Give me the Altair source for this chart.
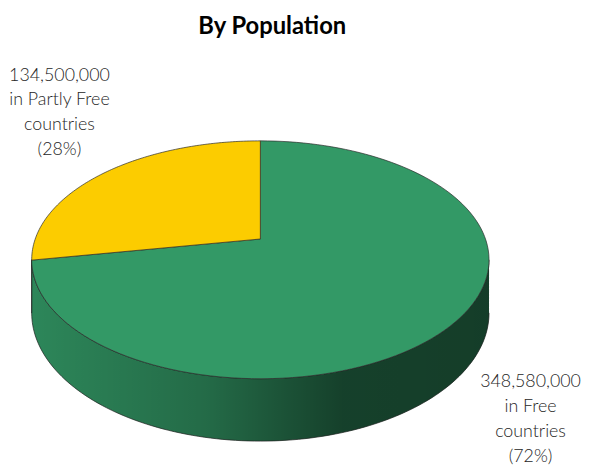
import altair as alt
import pandas as pd

# ---- data ----
categories = ["Free", "Partly Free"]
populations = [348580000, 134500000]
slice_colors = ["#339966", "#fccc00"]
title_text = "By Population"

total = sum(populations)
percents = [round(v / total * 100) for v in populations]
label_texts = [f"{v:,}\nin {c}\ncountries\n({p}%)" for v, c, p in zip(populations, categories, percents)]

df = pd.DataFrame({"category": categories, "population": populations,
                   "slice": list(range(len(categories)))})
lab_df = pd.DataFrame({"category": categories, "label": label_texts})
title_df = pd.DataFrame({"t": [title_text]})

# ---- 3D pie geometry (layout) ----
CX, CY, A, B, P, D0 = 263.0, 239.0, 227.5, 116.5, 0.175, 52.0
N = 120
FONT = "Lato"

xs = alt.Scale(domain=[8, 581], nice=False, zero=False)
ys = alt.Scale(domain=[8, 465], nice=False, zero=False, reverse=True)
color = alt.Color("category:N", scale=alt.Scale(domain=categories, range=slice_colors), legend=None)
X = alt.X("px:Q", scale=xs, axis=None)
Y = alt.Y("py:Q", scale=ys, axis=None)

base = (
    alt.Chart(df)
    .transform_joinaggregate(total="sum(population)")
    .transform_window(cum="sum(population)", sort=[alt.SortField("slice")], frame=[None, 0])
    .transform_calculate(a0="2*PI*(datum.cum - datum.population)/datum.total")
    .transform_calculate(a1="2*PI*datum.cum/datum.total")
)

top = (
    base.transform_calculate(idx=f"sequence(-1, {N + 2})")
    .transform_flatten(["idx"])
    .transform_calculate(phi=f"datum.a0 + (datum.a1 - datum.a0) * clamp(datum.idx, 0, {N}) / {N}")
    .transform_calculate(rim=f"datum.idx >= 0 && datum.idx <= {N}")
    .transform_calculate(w=f"1 + {P} * cos(datum.phi)")
    .transform_calculate(px=f"datum.rim ? {CX} + {A} * sin(datum.phi) / datum.w : {CX}")
    .transform_calculate(py=f"datum.rim ? {CY} - {B} * cos(datum.phi) / datum.w : {CY}")
    .mark_line(filled=True, stroke="#2b2b2b", strokeWidth=0.7, strokeJoin="round")
    .encode(x=X, y=Y, order="idx:Q", detail="category:N", color=color)
)

wall_base = (
    base.transform_calculate(b0=f"max(datum.a0, acos(-{P}))")
    .transform_calculate(b1=f"min(datum.a1, 2*PI - acos(-{P}))")
    .transform_filter("datum.b1 > datum.b0")
    .transform_calculate(idx=f"sequence(0, {2 * N + 2})")
    .transform_flatten(["idx"])
    .transform_calculate(lower=f"datum.idx > {N}")
    .transform_calculate(
        phi=f"datum.lower ? datum.b1 - (datum.b1 - datum.b0) * (datum.idx - {N + 1}) / {N}"
            f" : datum.b0 + (datum.b1 - datum.b0) * datum.idx / {N}")
    .transform_calculate(w=f"1 + {P} * cos(datum.phi)")
    .transform_calculate(px=f"{CX} + {A} * sin(datum.phi) / datum.w")
    .transform_calculate(py=f"{CY} - {B} * cos(datum.phi) / datum.w + (datum.lower ? {D0} / datum.w : 0)")
)

wall = wall_base.mark_line(filled=True, strokeWidth=0).encode(
    x=X, y=Y, order="idx:Q", detail="category:N", color=color)

shade_grad = alt.Gradient(
    gradient="linear",
    stops=[
        alt.GradientStop(color="rgba(0,0,0,0.12)", offset=0),
        alt.GradientStop(color="rgba(0,0,0,0.30)", offset=0.38),
        alt.GradientStop(color="rgba(0,0,0,0.58)", offset=0.68),
        alt.GradientStop(color="rgba(0,0,0,0.60)", offset=1),
    ],
    x1=0, x2=1, y1=0, y2=0,
)
shade = wall_base.mark_line(filled=True, fill=shade_grad, stroke="#1f1f1f",
                            strokeWidth=0.7, strokeJoin="round").encode(
    x=X, y=Y, order="idx:Q", detail="category:N")

title = alt.Chart(title_df).mark_text(
    font=FONT, fontSize=24, fontWeight="bold", color="#000000",
    align="center", baseline="alphabetic",
).encode(text="t:N", x=alt.value(275 - 8), y=alt.value(32 - 8))

label_style = dict(font=FONT, fontSize=18, fontWeight=300, color="#262626", align="center",
                   baseline="alphabetic", lineBreak="\n", lineHeight=25)

lab_partly = alt.Chart(lab_df).transform_filter(alt.datum.category == "Partly Free").mark_text(
    **label_style).encode(text="label:N", x=alt.value(60 - 8), y=alt.value(79 - 8))
lab_free = alt.Chart(lab_df).transform_filter(alt.datum.category == "Free").mark_text(
    **label_style).encode(text="label:N", x=alt.value(536 - 8), y=alt.value(389 - 8))

chart = (
    alt.layer(wall, shade, top, title, lab_partly, lab_free)
    .properties(width=573, height=457, padding=0)
    .configure_view(stroke=None)
)

chart.save("out.html", embed_options={"renderer": "svg", "actions": False})
